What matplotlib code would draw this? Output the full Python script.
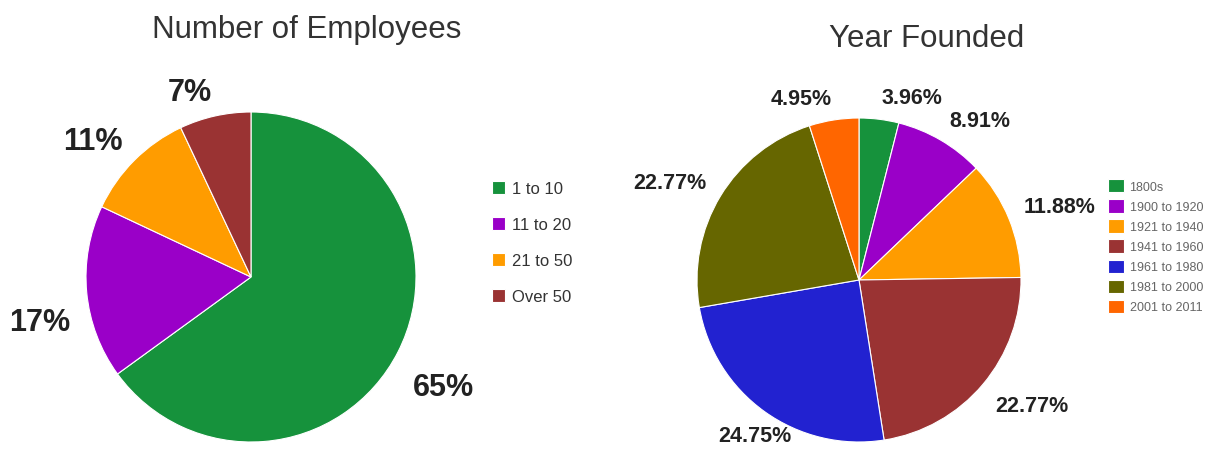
import matplotlib
matplotlib.use('Agg')
import matplotlib.pyplot as plt
from matplotlib.transforms import offset_copy

plt.rcParams['font.family'] = ['Liberation Sans', 'DejaVu Sans']

# data
emp_labels = ['1 to 10', '11 to 20', '21 to 50', 'Over 50']
emp_values = [65, 17, 11, 7]
emp_colors = ['#16923c', '#9a00c8', '#ff9c00', '#9a3333']

year_labels = ['1800s', '1900 to 1920', '1921 to 1940', '1941 to 1960',
               '1961 to 1980', '1981 to 2000', '2001 to 2011']
year_values = [3.96, 8.91, 11.88, 22.77, 24.75, 22.77, 4.95]
year_colors = ['#16923c', '#9a00c8', '#ff9c00', '#9a3333',
               '#2222d0', '#666600', '#ff6600']

W, H = 1215, 452
fig = plt.figure(figsize=(W / 100, H / 100), dpi=100)


def pix_axes(cx, cy, r):
    # square axes centered at pixel (cx, cy) from top-left
    return fig.add_axes([(cx - r) / W, (H - cy - r) / H, 2 * r / W, 2 * r / H])


def fix_labels(ax, texts, drop=0):
    # labels sit above the anchor in the top half, below it in the bottom half
    for t in texts:
        x, y = t.get_position()
        if y > 0:
            t.set_va('baseline')
        else:
            t.set_va('top')
            if drop:
                t.set_transform(offset_copy(ax.transData, fig=fig, y=-drop, units='points'))
        if y < -0.8:
            t.set_ha('center')


# left pie
ax1 = pix_axes(251, 278, 165)
w1, t1 = ax1.pie(emp_values, colors=emp_colors, startangle=90, counterclock=False,
                 labels=['%d%%' % v for v in emp_values], labeldistance=1.1,
                 wedgeprops=dict(linewidth=0.8, edgecolor='white'),
                 textprops=dict(fontsize=22, fontweight='bold', color='#222222'))
fix_labels(ax1, t1, drop=9)
ax1.set_xlim(-1, 1)
ax1.set_ylim(-1, 1)
ax1.set_aspect('equal')
fig.text(307 / W, 1 - 30 / H, 'Number of Employees', ha='center', va='center',
         fontsize=22.5, color='#333333')
fig.legend(w1, emp_labels, loc='upper left', bbox_to_anchor=(477 / W, 1 - 167 / H),
           frameon=False, fontsize=12, handlelength=0.8, handleheight=0.8,
           handletextpad=0.4, labelspacing=1.25, labelcolor='#333333')

# right pie
ax2 = pix_axes(859, 281, 162)
w2, t2 = ax2.pie(year_values, colors=year_colors, startangle=90, counterclock=False,
                 labels=['%.2f%%' % v for v in year_values], labeldistance=1.1,
                 wedgeprops=dict(linewidth=0.8, edgecolor='white'),
                 textprops=dict(fontsize=15.5, fontweight='bold', color='#222222'))
fix_labels(ax2, t2)
ax2.set_xlim(-1, 1)
ax2.set_ylim(-1, 1)
ax2.set_aspect('equal')
fig.text(927 / W, 1 - 39 / H, 'Year Founded', ha='center', va='center',
         fontsize=22.5, color='#333333')
fig.legend(w2, year_labels, loc='upper left', bbox_to_anchor=(1097 / W, 1 - 169 / H),
           frameon=False, fontsize=9, handlelength=1.25, handleheight=1.25,
           handletextpad=0.45, labelspacing=0.5, labelcolor='#666666')

fig.savefig('out.png', dpi=100)
